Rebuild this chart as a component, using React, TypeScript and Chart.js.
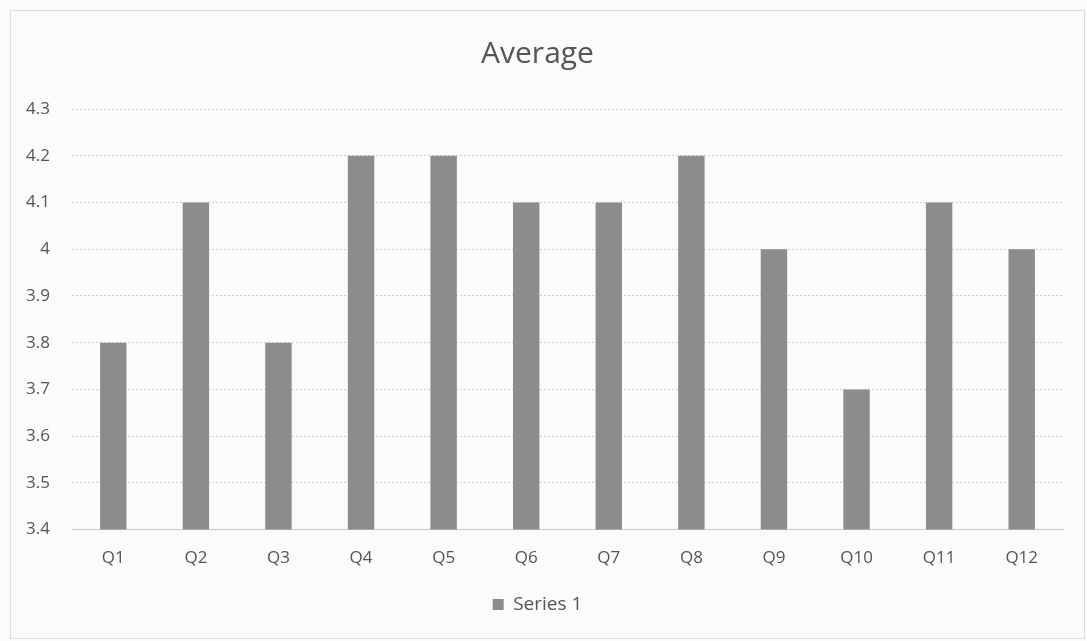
import React, { useEffect, useRef } from "react";
import { Chart, registerables } from "chart.js";

Chart.register(...registerables);

const categories = ["Q1", "Q2", "Q3", "Q4", "Q5", "Q6", "Q7", "Q8", "Q9", "Q10", "Q11", "Q12"];
const series1 = [3.8, 4.1, 3.8, 4.2, 4.2, 4.1, 4.1, 4.2, 4.0, 3.7, 4.1, 4.0];
const seriesName = "Series 1";
const titleText = "Average";
const yMin = 3.4;
const yMax = 4.3;
const yStep = 0.1;

export default function App() {
  const ref = useRef<HTMLCanvasElement | null>(null);
  useEffect(() => {
    if (!ref.current) return;
    const font = "'Open Sans', 'Liberation Sans', sans-serif";
    const chart = new Chart(ref.current, {
      type: "bar",
      data: {
        labels: categories,
        datasets: [
          {
            label: seriesName,
            data: series1,
            backgroundColor: "#8c8c8c",
            borderWidth: 0,
            categoryPercentage: 1,
            barPercentage: 0.32,
          },
        ],
      },
      options: {
        responsive: false,
        animation: false,
        layout: { padding: { left: 12, right: 24, top: 36, bottom: 17 } },
        plugins: {
          title: {
            display: true,
            text: titleText,
            color: "#555555",
            font: { family: font, size: 30, weight: "normal" },
            padding: { top: 0, bottom: 37 },
          },
          legend: {
            position: "bottom",
            labels: {
              color: "#555555",
              font: { family: font, size: 19 },
              boxWidth: 11,
              boxHeight: 11,
              padding: 9,
            },
          },
          tooltip: { enabled: false },
        },
        scales: {
          x: {
            grid: { display: false, drawTicks: false },
            border: { display: true, color: "#c8c8c8" },
            ticks: { color: "#555555", font: { family: font, size: 17 }, padding: 18 },
          },
          y: {
            min: yMin,
            max: yMax,
            afterFit: (s: any) => {
              s.width = 60;
            },
            ticks: {
              stepSize: yStep,
              color: "#555555",
              font: { family: font, size: 17 },
              padding: 22,
              callback: (v: any) => String(Math.round(Number(v) * 10) / 10),
            },
            grid: { color: "#cfcfcf", lineWidth: 1, drawTicks: false },
            border: { display: false, dash: [2, 2] },
          },
        },
      },
    });
    return () => chart.destroy();
  }, []);
  return (
    <div
      style={{
        position: "fixed",
        left: 0,
        top: 0,
        width: 1087,
        height: 641,
        background: "#fbfbfa",
      }}
    >
      <div
        style={{
          position: "absolute",
          left: 10,
          top: 10,
          width: 1075,
          height: 629,
          border: "1px solid #dcdcdc",
          boxSizing: "border-box",
        }}
      />
      <canvas ref={ref} width={1087} height={641} style={{ position: "absolute", left: 0, top: 0 }} />
    </div>
  );
}
